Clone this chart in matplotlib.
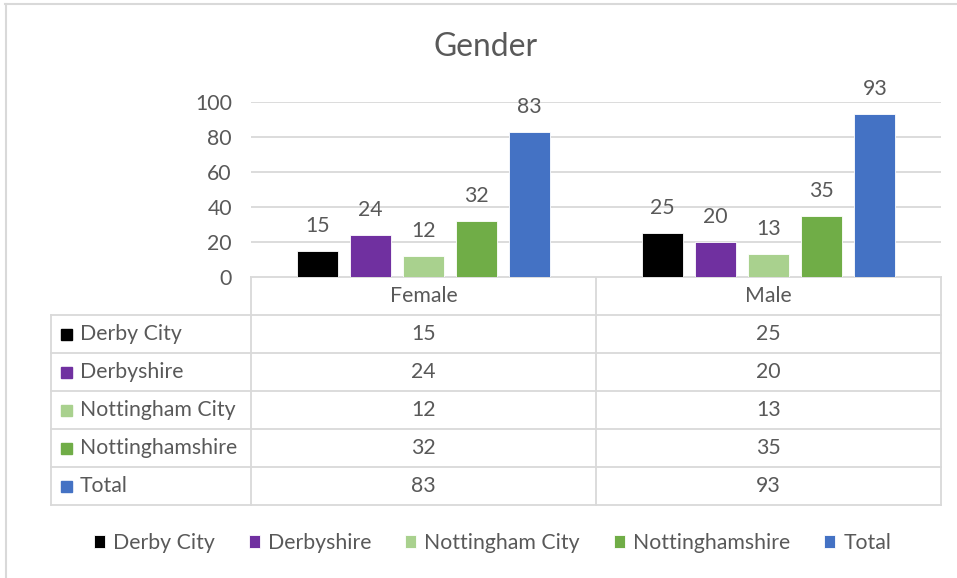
import matplotlib
matplotlib.use("Agg")
import matplotlib.pyplot as plt
from matplotlib.lines import Line2D
from matplotlib.patches import Rectangle

# data
categories = ["Female", "Male"]
series = ["Derby City", "Derbyshire", "Nottingham City", "Nottinghamshire", "Total"]
derby_city = [15, 25]
derbyshire = [24, 20]
nottingham_city = [12, 13]
nottinghamshire = [32, 35]
total = [83, 93]
values = [derby_city, derbyshire, nottingham_city, nottinghamshire, total]
colors = ["#000000", "#7030A0", "#A9D18E", "#70AD47", "#4472C4"]
yticks = [0, 20, 40, 60, 80, 100]

W, H = 957, 578
TXT = "#595959"
GRID = "#D9D9D9"
FS = 15.3
plt.rcParams["font.family"] = ["Lato", "DejaVu Sans"]

fig = plt.figure(figsize=(W / 100, H / 100), dpi=100)

# plot area in pixel terms
left, right, top, bottom = 251, 941, 102, 277
ax = fig.add_axes([left / W, 1 - bottom / H, (right - left) / W, (bottom - top) / H])
ax.set_xlim(-0.5, len(categories) - 0.5)
ax.set_ylim(0, 100)
ax.set_yticks(yticks)
ax.set_xticks([])
ax.yaxis.grid(True, color=GRID, linewidth=1.3)
ax.set_axisbelow(True)
for s in ax.spines.values():
    s.set_visible(False)
ax.tick_params(axis="y", length=0, labelsize=FS, labelcolor=TXT, pad=13.7)

step = 0.154
width = 0.12
for i, (name, vals, c) in enumerate(zip(series, values, colors)):
    xs = [k + (i - 2) * step for k in range(len(categories))]
    bars = ax.bar(xs, vals, width=width, color=c, edgecolor="white", linewidth=0.6, label=name)
    for b, v in zip(bars, vals):
        ax.annotate(str(v), (b.get_x() + b.get_width() / 2, v), xytext=(0, 18),
                    textcoords="offset points", ha="center", va="center",
                    fontsize=FS, color=TXT, annotation_clip=False)

# overlay in pixel coords for title, table, border
ov = fig.add_axes([0, 0, 1, 1], zorder=-1)
ov.set_xlim(0, W)
ov.set_ylim(H, 0)
ov.axis("off")

ov.add_line(Line2D([5, W], [4, 4], color=GRID, lw=1.5))
ov.add_line(Line2D([6, 6], [4, H], color=GRID, lw=1.5))

ov.text(486, 47, "Gender", ha="center", va="center", fontsize=22.9, color=TXT)

# data table
row_h = 38
col_x = [left, (left + right) / 2, right]
tbl_left = 51
rows_top = bottom + row_h
n = len(series)
lw = 1.3
ov.add_line(Line2D([left, right], [bottom, bottom], color=GRID, lw=lw))
for r in range(n + 1):
    y = rows_top + r * row_h
    ov.add_line(Line2D([tbl_left, right], [y, y], color=GRID, lw=lw))
for x in col_x:
    ov.add_line(Line2D([x, x], [bottom, rows_top + n * row_h], color=GRID, lw=lw))
ov.add_line(Line2D([tbl_left, tbl_left], [rows_top, rows_top + n * row_h], color=GRID, lw=lw))

for k, cat in enumerate(categories):
    cx = (col_x[k] + col_x[k + 1]) / 2
    ov.text(cx, bottom + row_h / 2, cat, ha="center", va="center", fontsize=FS, color=TXT)
for r, (name, vals, c) in enumerate(zip(series, values, colors)):
    cy = rows_top + r * row_h + row_h / 2
    ov.add_patch(Rectangle((61, cy - 5.5), 11, 11, color=c))
    ov.text(80, cy, name, ha="left", va="center", fontsize=FS, color=TXT)
    for k, v in enumerate(vals):
        cx = (col_x[k] + col_x[k + 1]) / 2
        ov.text(cx, cy, str(v), ha="center", va="center", fontsize=FS, color=TXT)

leg = fig.legend(loc="center", bbox_to_anchor=(492.5 / W, 1 - 543 / H), ncol=5, frameon=False,
                 handlelength=0.52, handleheight=0.52, handletextpad=0.38,
                 columnspacing=1.6, fontsize=FS, labelcolor=TXT)

fig.savefig("out.png", dpi=100)
